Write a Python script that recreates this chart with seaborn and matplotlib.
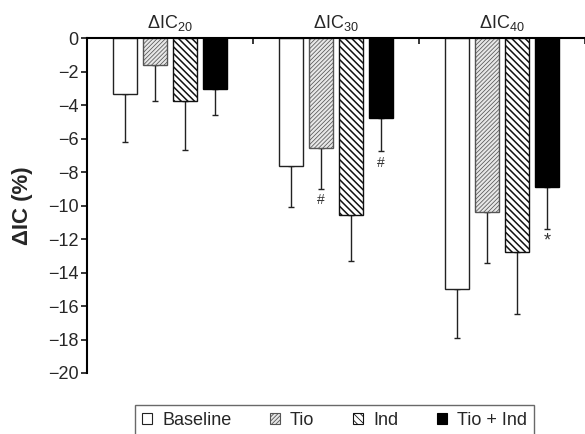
import numpy as np
import pandas as pd
import matplotlib
matplotlib.use("Agg")
import matplotlib.pyplot as plt
from matplotlib.patches import Patch
import seaborn as sns

# Данные
groups = ["IC20", "IC30", "IC40"]
group_labels = ["ΔIC$_{20}$", "ΔIC$_{30}$", "ΔIC$_{40}$"]
treatments = ["Baseline", "Tio", "Ind", "Tio + Ind"]
baseline = [-3.3, -7.6, -14.95]
tio = [-1.6, -6.55, -10.4]
ind = [-3.75, -10.55, -12.75]
tio_ind = [-3.0, -4.75, -8.85]
baseline_sd = [2.9, 2.45, 2.95]
tio_sd = [2.15, 2.45, 3.0]
ind_sd = [2.9, 2.75, 3.75]
tio_ind_sd = [1.6, 2.0, 2.55]
marks = {("Tio", 1): "#", ("Tio + Ind", 1): "#", ("Tio + Ind", 2): "*"}

sns.set_style("white")
plt.rcParams["font.family"] = ["Liberation Sans", "DejaVu Sans"]
plt.rcParams["mathtext.fontset"] = "custom"
plt.rcParams["mathtext.rm"] = "Liberation Sans"
plt.rcParams["mathtext.it"] = "Liberation Sans"
plt.rcParams["hatch.linewidth"] = 0.6

values = [baseline, tio, ind, tio_ind]
errors = [baseline_sd, tio_sd, ind_sd, tio_ind_sd]
df = pd.DataFrame({
    "group": np.repeat([groups], len(treatments), axis=0).ravel(),
    "treatment": np.repeat(treatments, len(groups)),
    "value": np.concatenate(values),
})

styles = {
    "Baseline": dict(face="white", edge="#222222", hatch=None, hlw=0.6),
    "Tio": dict(face="#e8e8e8", edge="#555555", hatch="////////", hlw=0.55),
    "Ind": dict(face="white", edge="#111111", hatch="\\\\\\\\\\", hlw=1.1),
    "Tio + Ind": dict(face="black", edge="black", hatch=None, hlw=0.6),
}


def set_hatch_lw(p, lw):
    if hasattr(p, "set_hatch_linewidth"):
        p.set_hatch_linewidth(lw)
    elif hasattr(p, "_hatch_linewidth"):
        p._hatch_linewidth = lw


fig = plt.figure(figsize=(5.85, 4.34), dpi=100)
ax = fig.add_axes([0.1487, 0.1406, 0.8513, 0.7707])

sns.barplot(data=df, x="group", y="value", hue="treatment", order=groups,
            hue_order=treatments, width=0.72, gap=0.2, errorbar=None,
            palette=["white"] * 4, legend=False, ax=ax)

bar_conts = list(ax.containers)
for t, cont in enumerate(bar_conts):
    st = styles[treatments[t]]
    for g, bar in enumerate(cont):
        bar.set_facecolor(st["face"])
        bar.set_edgecolor(st["edge"])
        bar.set_linewidth(1.0)
        if st["hatch"]:
            bar.set_hatch(st["hatch"])
            set_hatch_lw(bar, st["hlw"])
        xc = bar.get_x() + bar.get_width() / 2
        y = bar.get_height()
        err = errors[t][g]
        ax.errorbar(xc, y, yerr=[[err], [0]], fmt="none", ecolor="#222222",
                    elinewidth=1.0, capsize=2.5, capthick=1.0, zorder=0)
        m = marks.get((treatments[t], g))
        if m == "#":
            ax.text(xc, y - err - 0.25, m, ha="center", va="top",
                    fontsize=10, color="#333333")
        elif m:
            ax.text(xc, y - err - 0.2, m, ha="center", va="top",
                    fontsize=13, color="#333333")

ax.set_ylim(-20, 0)
ax.set_xlim(-0.5, 2.5)
ax.set_yticks(np.arange(-20, 1, 2))
ax.xaxis.tick_top()
ax.set_xticks([-0.5, 0.5, 1.5, 2.5])
ax.set_xticklabels([])
ax.tick_params(axis="x", direction="in", length=4, width=1.3, top=True, bottom=False)
ax.tick_params(axis="y", direction="out", length=4, width=1.3, left=True, labelsize=13, pad=2)
ax.set_xlabel("")
ax.set_ylabel("ΔIC (%)", fontsize=16, fontweight="bold")
ax.yaxis.set_label_coords(-0.108, 0.5)

for s in ["right", "bottom"]:
    ax.spines[s].set_visible(False)
for s in ["left", "top"]:
    ax.spines[s].set_linewidth(1.5)
    ax.spines[s].set_color("black")

for i, lab in enumerate(group_labels):
    ax.text(i, 0.3, lab, ha="center", va="bottom", fontsize=13)

handles = []
for t in treatments:
    p = Patch(facecolor=styles[t]["face"], edgecolor=styles[t]["edge"],
              hatch=styles[t]["hatch"], linewidth=0.8)
    set_hatch_lw(p, styles[t]["hlw"])
    handles.append(p)
leg = fig.legend(handles, treatments, loc="upper center", ncol=4,
                 bbox_to_anchor=(0.572, 0.0668), borderaxespad=0,
                 fontsize=13, frameon=True, fancybox=False,
                 handlelength=0.55, handleheight=0.55, handletextpad=0.55,
                 columnspacing=2.15, borderpad=0.4)
leg.get_frame().set_edgecolor("#444444")
leg.get_frame().set_linewidth(1.0)

fig.savefig("out.png", dpi=100)
